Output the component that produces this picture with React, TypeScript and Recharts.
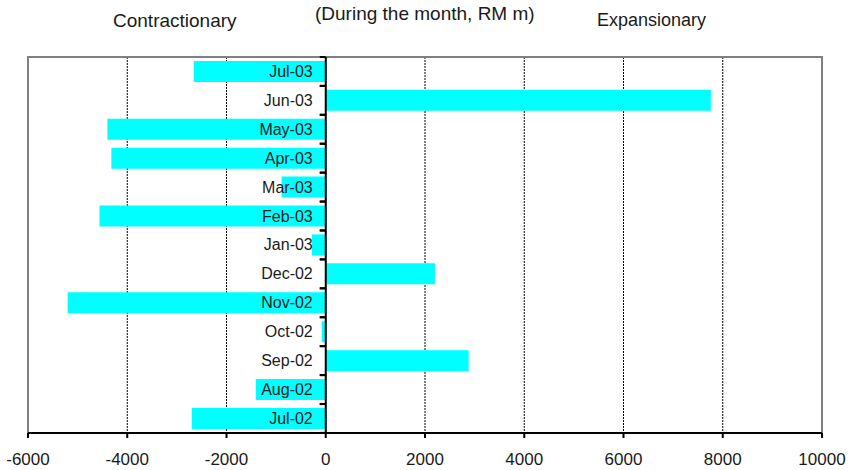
import * as React from "react";
import {
  BarChart,
  Bar,
  XAxis,
  YAxis,
  CartesianGrid,
  ReferenceLine,
  ReferenceArea,
  LabelList,
} from "recharts";

const MONTHS = [
  "Jul-02", "Aug-02", "Sep-02", "Oct-02", "Nov-02", "Dec-02", "Jan-03",
  "Feb-03", "Mar-03", "Apr-03", "May-03", "Jun-03", "Jul-03",
];
const FLOWS = [
  -2700, -1410, 2880, -80, -5200, 2200, -280,
  -4560, -890, -4320, -4400, 7760, -2660,
];
const X_TICKS = [-6000, -4000, -2000, 0, 2000, 4000, 6000, 8000, 10000];

const data = MONTHS.map((m, i) => ({ month: m, value: FLOWS[i] }));

const FONT = "'Liberation Sans', Arial, sans-serif";
const GAP = 0.135; // barCategoryGap as a fraction of the band

// month label sits left of the zero line, with a small tick at the band edges
function monthLabel(props: any) {
  const { x, y, width, height, index } = props;
  const v = FLOWS[index];
  const zeroX = v < 0 && width > 0 ? x + width : x;
  const band = height / (1 - 2 * GAP);
  const top = y - band * GAP;
  return (
    <g key={`lbl-${index}`}>
      <line x1={zeroX - 6} x2={zeroX} y1={top} y2={top} stroke="#000" strokeWidth={2} />
      <line x1={zeroX - 6} x2={zeroX} y1={top + band} y2={top + band} stroke="#000" strokeWidth={2} />
      <text
        x={zeroX - 13}
        y={y + height / 2}
        textAnchor="end"
        dominantBaseline="central"
        style={{ fontFamily: FONT, fontSize: 16, fill: "#1a1a1a" }}
      >
        {MONTHS[index]}
      </text>
    </g>
  );
}

const header: React.CSSProperties = {
  position: "absolute",
  fontFamily: FONT,
  fontSize: 19,
  color: "#1a1a1a",
  whiteSpace: "nowrap",
};

export default function App() {
  return (
    <div style={{ position: "absolute", left: 0, top: 0, width: 848, height: 470, background: "#fff" }}>
      <div style={{ ...header, left: 113, top: 9.5 }}>Contractionary</div>
      <div style={{ ...header, left: 315, top: 3 }}>(During the month, RM m)</div>
      <div style={{ ...header, left: 597, top: 9.5, fontSize: 18 }}>Expansionary</div>
      <BarChart
        width={848}
        height={470}
        data={data}
        layout="vertical"
        margin={{ top: 57, right: 26, left: 28, bottom: 0 }}
        barCategoryGap={`${GAP * 100}%`}
      >
        <ReferenceArea
          x1={-6000}
          x2={10000}
          fill="none"
          stroke="#808080"
          strokeWidth={2}
          ifOverflow="extendDomain"
        />
        <CartesianGrid horizontal={false} stroke="#000" strokeDasharray="2 1" />
        <XAxis
          type="number"
          domain={[-6000, 10000]}
          ticks={X_TICKS}
          height={37}
          axisLine={{ stroke: "#000", strokeWidth: 2 }}
          tickLine={{ stroke: "#000", strokeWidth: 2 }}
          tickSize={5}
          tickMargin={15}
          tick={{ fontFamily: FONT, fontSize: 17, fill: "#1a1a1a" }}
          interval={0}
        />
        <YAxis type="category" dataKey="month" reversed hide />
        <Bar dataKey="value" fill="#00FFFF" isAnimationActive={false}>
          <LabelList dataKey="month" content={monthLabel} />
        </Bar>
        <ReferenceLine x={0} stroke="#000" strokeWidth={2} />
      </BarChart>
    </div>
  );
}
